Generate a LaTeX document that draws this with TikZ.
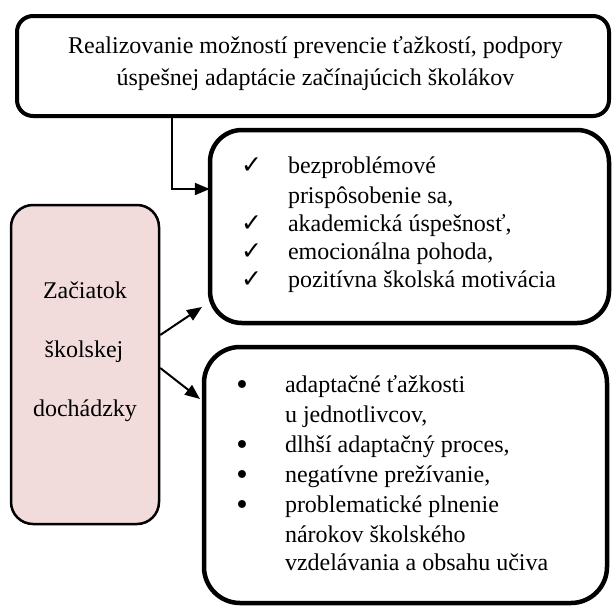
\documentclass[tikz,border=0pt]{standalone}
\usepackage{fontspec}
\setmainfont{Liberation Serif}
\newfontfamily\symfont{DejaVu Sans}
\usetikzlibrary{arrows.meta}
\definecolor{pinkfill}{HTML}{F2DCDB}
\begin{document}
\begin{tikzpicture}[x=1pt,y=-1pt,
  bigbox/.style={draw=black, line width=4.5pt, inner sep=0pt, fill=white},
  pinkbox/.style={draw=black, line width=2.5pt, inner sep=0pt, fill=pinkfill, rounded corners=22pt},
  txt/.style={inner sep=0pt, outer sep=0pt, font=\fontsize{24}{28}\selectfont},
  lt/.style={txt, anchor=base west},
  ct/.style={txt, anchor=base},
  chk/.style={inner sep=0pt, anchor=base west, font=\symfont\fontsize{25}{28}\selectfont},
  bul/.style={inner sep=0pt, anchor=base, font=\symfont\fontsize{27}{30}\selectfont},
  arr/.style={line width=2pt, -{Triangle[length=15pt,width=12pt]}}
]
\useasboundingbox (0,0) rectangle (614,608);

% boxes
\node[bigbox, line width=4pt, rounded corners=16pt, minimum width=592pt, minimum height=100pt] (top) at (313,66) {};
\node[bigbox, rounded corners=32pt, minimum width=399pt, minimum height=193pt] (mid) at (409.5,226.5) {};
\node[bigbox, rounded corners=36pt, minimum width=403pt, minimum height=256pt] (bot) at (405.5,475) {};
\node[pinkbox, minimum width=148pt, minimum height=319pt] (left) at (85,364.5) {};

% top text
\node[ct] (t1) at (315.5,53) {Realizovanie možností prevencie ťažkostí, podpory};
\node[ct] (t2) at (315.5,85) {úspešnej adaptácie začínajúcich školákov};

% left text
\node[ct] (l1) at (85,298) {Začiatok};
\node[ct] (l2) at (84,357) {školskej};
\node[ct] (l3) at (85,416) {dochádzky};

% mid list
\node[chk] (m1c) at (241,173) {✓};
\node[lt] (m1) at (288,173) {bezproblémové};
\node[lt] (m1b) at (288,203) {prispôsobenie sa,};
\node[chk] (m2c) at (241,231) {✓};
\node[lt] (m2) at (288,231) {akademická úspešnosť,};
\node[chk] (m3c) at (241,259) {✓};
\node[lt] (m3) at (288,259) {emocionálna pohoda,};
\node[chk] (m4c) at (241,287) {✓};
\node[lt] (m4) at (288,287) {pozitívna školská motivácia};

% bottom list
\node[bul] (b1c) at (242,394) {•};
\node[lt] (b1) at (285,392) {adaptačné ťažkosti};
\node[lt] (b1b) at (285,422) {u jednotlivcov,};
\node[bul] (b2c) at (242,454) {•};
\node[lt] (b2) at (285,452) {dlhší adaptačný proces,};
\node[bul] (b3c) at (242,484) {•};
\node[lt] (b3) at (285,482) {negatívne prežívanie,};
\node[bul] (b4c) at (242,514) {•};
\node[lt] (b4) at (285,512) {problematické plnenie};
\node[lt] (b4b) at (285,542) {nárokov školského};
\node[lt] (b4d) at (285,570) {vzdelávania a obsahu učiva};

% connectors
\coordinate (c1) at (172,189);
\coordinate (s1) at (0,335);
\coordinate (s2) at (0,368);
\coordinate (e1) at (202,307);
\coordinate (e2) at (200,399);
\draw[arr] (top.south -| c1) |- ([xshift=2pt]mid.west |- c1);
\draw[arr] (left.east |- s1) -- (e1);
\draw[arr] (left.east |- s2) -- (e2);
\end{tikzpicture}
\end{document}
